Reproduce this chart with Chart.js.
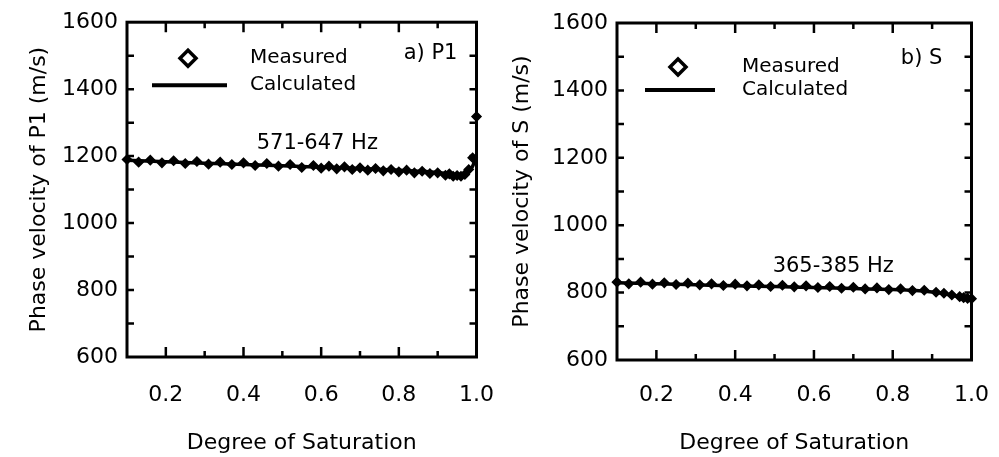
<!DOCTYPE html>
<html><head><meta charset="utf-8">
<script src="https://cdn.jsdelivr.net/npm/chart.js@4"></script>
<style>
html,body{margin:0;padding:0;background:#fff;}
#wrap{position:relative;width:999px;height:457px;overflow:hidden;}
canvas{position:absolute;top:0;}
</style></head><body>
<div id="wrap">
<canvas id="cA" width="519" height="457" style="left:0px"></canvas>
<canvas id="cB" width="516" height="457" style="left:495px"></canvas>
</div>
<script>
// ---- data ----
const xTickLabels = [0.2, 0.4, 0.6, 0.8, 1.0];
const xMinorTicks = [0.3, 0.5, 0.7, 0.9];
const yTickLabels = [600, 800, 1000, 1200, 1400, 1600];
const yMinorTicks = [700, 900, 1100, 1300, 1500];
const xTitle = 'Degree of Saturation';

// Panel a) P1
const satMeasP1 = [0.10,0.13,0.16,0.19,0.22,0.25,0.28,0.31,0.34,0.37,0.40,0.43,0.46,0.49,0.52,0.55,0.58,0.60,0.62,0.64,0.66,0.68,0.70,0.72,0.74,0.76,0.78,0.80,0.82,0.84,0.86,0.88,0.90,0.92,0.93,0.94,0.95,0.96,0.97,0.98,0.99,1.00];
const velMeasP1 = [1190,1182,1188,1180,1186,1178,1184,1176,1182,1175,1180,1172,1178,1170,1175,1166,1172,1164,1170,1162,1168,1160,1165,1158,1163,1156,1160,1153,1158,1150,1155,1148,1150,1143,1147,1140,1142,1140,1145,1160,1195,1318];
const satCalcP1 = [0.10,0.20,0.30,0.40,0.50,0.60,0.70,0.80,0.85,0.90,0.93,0.95,0.97,0.98,0.99,1.00];
const velCalcP1 = [1188,1183,1179,1175,1171,1167,1163,1158,1155,1151,1147,1144,1146,1152,1170,1200];

// Panel b) S
const satMeasS = [0.10,0.13,0.16,0.19,0.22,0.25,0.28,0.31,0.34,0.37,0.40,0.43,0.46,0.49,0.52,0.55,0.58,0.61,0.64,0.67,0.70,0.73,0.76,0.79,0.82,0.85,0.88,0.91,0.93,0.95,0.97,0.98,0.99,1.00];
const velMeasS = [831,826,831,825,829,824,828,823,826,821,825,820,823,818,822,817,820,815,818,813,816,811,814,809,811,806,807,801,798,793,788,785,783,782];
const satCalcS = [0.10,0.20,0.30,0.40,0.50,0.60,0.70,0.80,0.85,0.90,0.93,0.95,0.97,0.99,1.00];
const velCalcS = [829,826,823,820,818,815,812,809,807,802,797,792,787,783,781];

const FONT = "'DejaVu Sans', sans-serif";

const framePlugin = {
  id: 'frame',
  afterDraw(chart, args, o) {
    const {ctx, chartArea: a, scales: {x, y}} = chart;
    ctx.save();
    ctx.strokeStyle = '#000';
    ctx.lineWidth = 3;
    ctx.strokeRect(a.left, a.top, a.right - a.left, a.bottom - a.top);
    ctx.lineWidth = 2.5;
    ctx.beginPath();
    const xt = (list, len) => list.forEach(v => {
      const px = x.getPixelForValue(v);
      if (px > a.left + 3 && px < a.right - 3) {
        ctx.moveTo(px, a.bottom); ctx.lineTo(px, a.bottom - len);
        ctx.moveTo(px, a.top); ctx.lineTo(px, a.top + len);
      }
    });
    xt(xTickLabels, 10); xt(xMinorTicks, 6);
    yTickLabels.concat(yMinorTicks).forEach(v => {
      const py = y.getPixelForValue(v);
      if (py > a.top + 3 && py < a.bottom - 3) {
        ctx.moveTo(a.left, py); ctx.lineTo(a.left + 7, py);
        ctx.moveTo(a.right, py); ctx.lineTo(a.right - 7, py);
      }
    });
    ctx.stroke();

    // legend
    const L = o.legend;
    ctx.fillStyle = '#000';
    ctx.font = "20px " + FONT;
    ctx.textBaseline = 'middle';
    ctx.textAlign = 'left';
    const dx = a.left + L.dx, dy = a.top + L.dy, r = 8;
    ctx.beginPath();
    ctx.moveTo(dx, dy - r); ctx.lineTo(dx + r, dy); ctx.lineTo(dx, dy + r); ctx.lineTo(dx - r, dy); ctx.closePath();
    ctx.fillStyle = '#fff'; ctx.fill();
    ctx.lineWidth = 3.5; ctx.stroke();
    ctx.fillStyle = '#000';
    ctx.fillText('Measured', a.left + L.tx, a.top + L.dy);
    ctx.beginPath();
    ctx.lineWidth = 4;
    ctx.moveTo(a.left + L.l0, a.top + L.ly); ctx.lineTo(a.left + L.l1, a.top + L.ly);
    ctx.stroke();
    ctx.fillText('Calculated', a.left + L.tx, a.top + L.ly);

    // annotations
    ctx.font = "21px " + FONT;
    ctx.textAlign = 'right';
    ctx.fillText(o.panel.text, x.getPixelForValue(o.panel.x), y.getPixelForValue(o.panel.y));
    ctx.textAlign = 'center';
    ctx.fillText(o.freq.text, x.getPixelForValue(o.freq.x), y.getPixelForValue(o.freq.y));
    ctx.restore();
  }
};

function makeChart(el, c) {
  return new Chart(document.getElementById(el), {
    type: 'line',
    data: {
      datasets: [
        { label: 'Measured', data: c.measX.map((v, i) => ({x: v, y: c.measY[i]})),
          showLine: false, pointStyle: 'rectRot', pointRadius: 4.5,
          pointBackgroundColor: '#000', pointBorderColor: '#000', pointBorderWidth: 1.5,
          clip: false, order: 1 },
        { label: 'Calculated', data: c.calcX.map((v, i) => ({x: v, y: c.calcY[i]})),
          borderColor: '#000', borderWidth: 3.5, pointRadius: 0,
          cubicInterpolationMode: 'monotone', clip: false, order: 2 }
      ]
    },
    options: {
      responsive: false, animation: false, devicePixelRatio: 1,
      layout: { padding: { left: 0, right: c.padR, top: c.padT, bottom: 0 } },
      plugins: {
        legend: { display: false }, tooltip: { enabled: false },
        frame: { legend: c.legend, panel: c.panel, freq: c.freq }
      },
      scales: {
        x: {
          type: 'linear', min: 0.1, max: 1.0,
          grid: { display: false, drawTicks: false }, border: { display: false },
          afterBuildTicks: s => { s.ticks = xTickLabels.map(v => ({value: v})); },
          afterFit: s => { s.height = c.xH; },
          ticks: { padding: c.xTickPad, color: '#000', font: { family: FONT, size: 22 },
                   callback: v => Number(v).toFixed(1), maxRotation: 0, autoSkip: false },
          title: { display: true, text: xTitle, color: '#000', font: { family: FONT, size: 22 },
                   padding: { top: 0, bottom: 1 } }
        },
        y: {
          type: 'linear', min: 600, max: 1600,
          grid: { display: false, drawTicks: false }, border: { display: false },
          afterBuildTicks: s => { s.ticks = yTickLabels.map(v => ({value: v})); },
          afterFit: s => { s.width = c.yW; },
          ticks: { padding: 9, color: '#000', font: { family: FONT, size: 22 }, autoSkip: false,
                   callback: v => String(v) },
          title: { display: true, text: c.yTitle, color: '#000', font: { family: FONT, size: 22 },
                   padding: { top: c.yTitlePad, bottom: 0 } }
        }
      }
    },
    plugins: [framePlugin]
  });
}

makeChart('cA', {
  measX: satMeasP1, measY: velMeasP1, calcX: satCalcP1, calcY: velCalcP1,
  yTitle: 'Phase velocity of P1 (m/s)',
  padR: 18, padT: 21, xH: 100, yW: 127, xTickPad: 25, yTitlePad: 26,
  legend: { dx: 61, dy: 36, tx: 123, l0: 25, l1: 100, ly: 63 },
  panel: { text: 'a) P1', x: 0.951, y: 1505 },
  freq: { text: '571-647 Hz', x: 0.59, y: 1238 }
});
makeChart('cB', {
  measX: satMeasS, measY: velMeasS, calcX: satCalcS, calcY: velCalcS,
  yTitle: 'Phase velocity of S (m/s)',
  padR: 28, padT: 23, xH: 97, yW: 122, xTickPad: 22, yTitlePad: 14,
  legend: { dx: 61, dy: 44, tx: 125, l0: 28, l1: 98, ly: 67 },
  panel: { text: 'b) S', x: 0.926, y: 1496 },
  freq: { text: '365-385 Hz', x: 0.649, y: 876 }
});
</script>
</body></html>
